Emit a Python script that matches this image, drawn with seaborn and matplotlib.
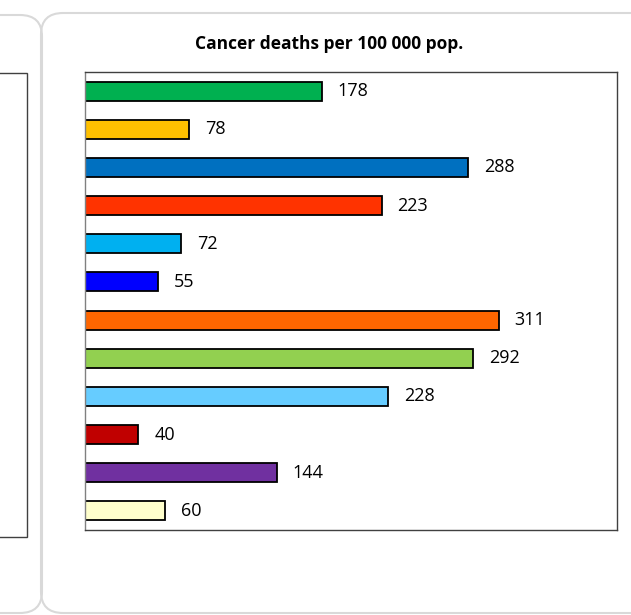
import matplotlib
matplotlib.use("Agg")

import matplotlib.pyplot as plt
import seaborn as sns
from matplotlib.patches import FancyBboxPatch, Rectangle

# ==========================================
# DATA
# ==========================================

categories = [
    "A", "B", "C", "D", "E", "F",
    "G", "H", "I", "J", "K", "L"
]

deaths = [178, 78, 288, 223, 72, 55, 311, 292, 228, 40, 144, 60]

bar_colors = [
    "#00B050", "#FFC000", "#0070C0", "#FF3300",
    "#00B0F0", "#0000FF", "#FF6600", "#92D050",
    "#66CCFF", "#C00000", "#7030A0", "#FFFFCC"
]

title = "Cancer deaths per 100 000 pop."

# ==========================================
# FIGURE
# ==========================================

sns.set_style("white")
plt.rcParams["font.family"] = ["Open Sans", "DejaVu Sans"]
plt.rcParams["text.color"] = "black"

W, H = 631, 615
fig = plt.figure(figsize=(W / 100, H / 100), dpi=100)

# panel frames (rounded, light grey)
frame_col = "#D9D9D9"
radius = 0.035

left_frame = FancyBboxPatch(
    (-200 / W, (H - 613) / H),
    242 / W, 598 / H,
    boxstyle=f"round,pad=0,rounding_size={radius}",
    transform=fig.transFigure,
    facecolor="none", edgecolor=frame_col, lw=1.5
)
fig.patches.append(left_frame)

right_frame = FancyBboxPatch(
    (41 / W, (H - 613) / H),
    700 / W, 600 / H,
    boxstyle=f"round,pad=0,rounding_size={radius}",
    transform=fig.transFigure,
    facecolor="none", edgecolor=frame_col, lw=1.5
)
fig.patches.append(right_frame)

# plot area of the cut-off left chart
left_box = Rectangle(
    (-10 / W, (H - 537) / H),
    37 / W, 464 / H,
    transform=fig.transFigure,
    facecolor="white", edgecolor="#404040", lw=1.0
)
fig.patches.append(left_box)

# ==========================================
# BAR CHART
# ==========================================

ax = fig.add_axes([
    85 / W,
    (H - 530) / H,
    (617 - 85) / W,
    (530 - 72) / H
])

sns.barplot(
    x=deaths,
    y=categories,
    hue=categories,
    palette=bar_colors,
    saturation=1,
    legend=False,
    orient="h",
    width=0.5,
    edgecolor="black",
    linewidth=1.3,
    ax=ax
)

for i, v in enumerate(deaths):
    ax.annotate(
        str(v),
        xy=(v, i),
        xytext=(11.5, 0),
        textcoords="offset points",
        va="center",
        ha="left",
        fontsize=13,
        color="black"
    )

ax.set_xlim(0, 400)
ax.set_ylim(11.5, -0.5)
ax.set_xticks([])
ax.set_yticks([])
ax.set_xlabel("")
ax.set_ylabel("")

for side in ["top", "right", "bottom"]:
    ax.spines[side].set_color("#404040")
    ax.spines[side].set_linewidth(1.0)
ax.spines["left"].set_color("#808080")
ax.spines["left"].set_linewidth(1.0)

fig.text(
    329 / W, 1 - 44 / H,
    title,
    ha="center", va="center",
    fontsize=12.5, fontweight="bold",
    color="black"
)

plt.savefig("out.png", dpi=100)
plt.close()
